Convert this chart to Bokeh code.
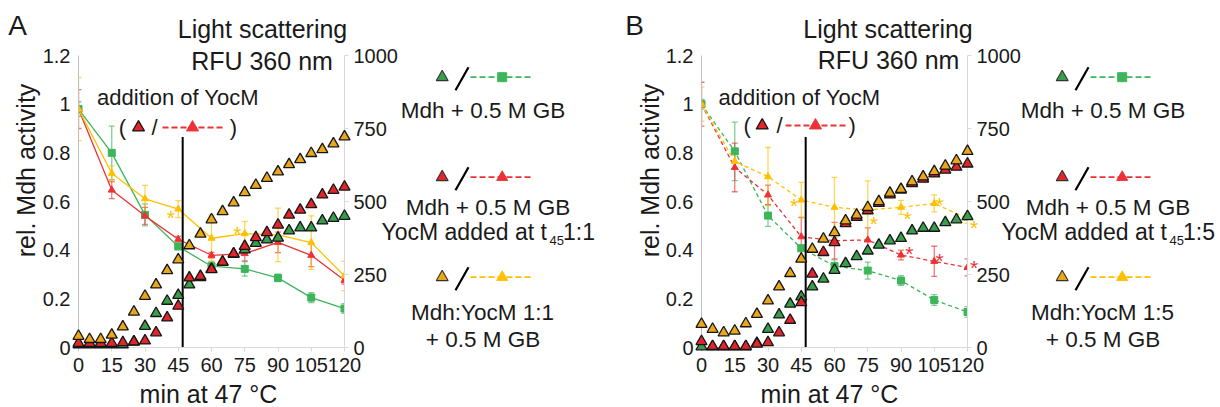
import math
from bokeh.plotting import figure
from bokeh.models import Range1d, LinearAxis, FixedTicker, Whisker, TeeHead, ColumnDataSource
from bokeh.layouts import row
from bokeh.embed import file_html
from bokeh.resources import INLINE
from bokeh.core.properties import value

# ---------------- data ----------------
minutes_activity = [0, 15, 30, 45, 60, 75, 90, 105, 120]
minutes_scatter = [0, 5, 10, 15, 20, 25, 30, 35, 40, 45, 50, 55, 60,
                   65, 70, 75, 80, 85, 90, 95, 100, 105, 110, 115, 120]
x_ticks = [0, 15, 30, 45, 60, 75, 90, 105, 120]
left_ticks = [0, 0.2, 0.4, 0.6, 0.8, 1.0, 1.2]
left_tick_labels = ["0", "0.2", "0.4", "0.6", "0.8", "1", "1.2"]
right_ticks = [0, 250, 500, 750, 1000]

yocm_addition_min = 47
yocm_line_top = 0.865

# Panel A  (Mdh:YocM 1:1)
A_act_mdh = [0.98, 0.80, 0.545, 0.415, 0.334, 0.323, 0.286, 0.205, 0.16]
A_err_mdh = [0.03, 0.11, 0.045, 0.012, 0.02, 0.03, 0.015, 0.02, 0.02]
A_act_added = [0.98, 0.647, 0.541, 0.445, 0.379, 0.386, 0.432, 0.379, 0.276]
A_err_added = [0.08, 0.035, 0.035, 0.012, 0.012, 0.03, 0.042, 0.047, 0.015]
A_act_premix = [0.98, 0.716, 0.611, 0.569, 0.449, 0.468, 0.463, 0.431, 0.294]
A_err_premix = [0.13, 0.03, 0.055, 0.035, 0.095, 0.05, 0.11, 0.11, 0.06]
A_ls_mdh = [10, 10, 10, 10, 10, 19, 73, 117, 159, 179, 215, 240, 268,
            292, 320, 335, 357, 369, 375, 400, 410, 410, 434, 443, 450]
A_ls_added = [15, 15, 15, 15, 17, 20, 23, 51, 102, 142, 239, 244, 267,
              293, 321, 347, 377, 394, 420, 454, 471, 490, 523, 539, 550]
A_ls_premix = [39, 28, 28, 43, 71, 122, 176, 215, 264, 301, 349, 389, 438,
               466, 496, 531, 556, 580, 602, 627, 644, 665, 678, 698, 722]
A_star_premix_x = [41.6, 71.7]
A_star_premix_y = [0.553, 0.49]
A_star_added_x = []
A_star_added_y = []

# Panel B  (Mdh:YocM 1:5)
B_act_mdh = [1.0, 0.806, 0.542, 0.408, 0.335, 0.316, 0.275, 0.195, 0.146]
B_err_mdh = [0.02, 0.12, 0.044, 0.012, 0.025, 0.035, 0.02, 0.022, 0.022]
B_act_added = [1.0, 0.74, 0.627, 0.455, 0.439, 0.442, 0.38, 0.354, 0.329]
B_err_added = [0.09, 0.10, 0.04, 0.08, 0.075, 0.05, 0.02, 0.062, 0.035]
B_act_premix = [1.0, 0.765, 0.702, 0.606, 0.576, 0.565, 0.576, 0.592, 0.53]
B_err_premix = [0.07, 0.03, 0.12, 0.073, 0.123, 0.12, 0.029, 0.035, 0.02]
B_ls_mdh = [3, 3, 3, 3, 3, 15, 63, 112, 149, 174, 208, 235, 265,
            288, 312, 331, 351, 366, 374, 400, 409, 409, 428, 438, 449]
B_ls_added = [21, 4, 4, 4, 4, 12, 17, 51, 94, 154, 252, 326, 360,
              425, 446, 469, 494, 523, 540, 562, 577, 595, 608, 618, 629]
B_ls_premix = [80, 63, 51, 57, 82, 114, 160, 208, 254, 303, 337, 372, 394,
               434, 454, 480, 500, 529, 542, 568, 585, 603, 622, 640, 672]
B_star_premix_x = [41.8, 77.7, 93.0, 107.4, 123.0]
B_star_premix_y = [0.603, 0.532, 0.549, 0.61, 0.512]
B_star_added_x = [93.8, 107.4, 123.0]
B_star_added_y = [0.405, 0.377, 0.35]

# ---------------- style ----------------
FONT = "Liberation Sans"
TXT = "#1a1a1a"
G_TRI, G_LINE = "#3A9D4B", "#3DB55A"
R_TRI, R_LINE = "#E1262B", "#EC3237"
Y_TRI, Y_LINE = "#E9A81C", "#FFC000"

FW, FH, FT, FB = 266, 292, 55, 347
H = 407


def build(cfg):
    FL = cfg["FL"]

    def dx(px):
        return (px - FL) / FW * 120.0

    def dy(py):
        return (FB - py) / FH * 1.2

    w = cfg["w"]
    p = figure(width=w, height=H, output_backend="svg", toolbar_location=None, tools="",
               x_range=Range1d(0, 120), y_range=Range1d(0, 1.2),
               min_border_left=cfg["bl"], min_border_right=w - cfg["bl"] - FW,
               min_border_top=FT, min_border_bottom=H - FT - FH)
    p.extra_y_ranges = {"ls": Range1d(0, 1000)}
    p.xgrid.visible = False
    p.ygrid.visible = False
    p.outline_line_color = None
    p.background_fill_color = "white"
    p.border_fill_color = "white"

    xa = p.xaxis[0]
    xa.ticker = FixedTicker(ticks=x_ticks)
    xa.axis_line_color = "#D9D9D9"
    xa.major_tick_line_color = "#D9D9D9"
    xa.major_tick_out = 4
    xa.major_tick_in = 0
    xa.minor_tick_line_color = None
    xa.major_label_standoff = 6
    xa.major_label_text_font = FONT
    xa.major_label_text_font_size = "20px"
    xa.major_label_text_color = TXT

    ya = p.yaxis[0]
    ya.ticker = FixedTicker(ticks=left_ticks)
    ya.major_label_overrides = {t: s for t, s in zip(left_ticks, left_tick_labels)}
    ya.axis_line_color = "#BFBFBF"
    ya.major_tick_line_color = None
    ya.major_tick_out = 0
    ya.major_tick_in = 0
    ya.minor_tick_line_color = None
    ya.major_label_standoff = 8
    ya.major_label_text_font = FONT
    ya.major_label_text_font_size = "20px"
    ya.major_label_text_color = TXT

    ra = LinearAxis(y_range_name="ls", ticker=FixedTicker(ticks=right_ticks))
    ra.axis_line_color = "#D9D9D9"
    ra.major_tick_line_color = "#D9D9D9"
    ra.major_tick_out = 4
    ra.major_tick_in = 0
    ra.minor_tick_line_color = None
    ra.major_label_standoff = 5
    ra.major_label_text_font = FONT
    ra.major_label_text_font_size = "20px"
    ra.major_label_text_color = TXT
    p.add_layout(ra, "right")

    # activity series
    series = [(cfg["mdh"], cfg["mdh_e"], G_LINE, "square", 7),
              (cfg["add"], cfg["add_e"], R_LINE, "triangle", 7),
              (cfg["pre"], cfg["pre_e"], Y_LINE, "triangle", 7)]
    for vals, errs, col, mk, ms in series:
        p.line(minutes_activity, vals, line_color=col, line_width=1.3, line_dash=cfg["dash"])
        src = ColumnDataSource(dict(x=minutes_activity,
                                    lo=[v - e for v, e in zip(vals, errs)],
                                    hi=[v + e for v, e in zip(vals, errs)]))
        p.add_layout(Whisker(source=src, base="x", lower="lo", upper="hi",
                             line_color=col, line_alpha=0.65, line_width=1.3,
                             upper_head=TeeHead(size=6, line_color=col, line_alpha=0.65, line_width=1.3),
                             lower_head=TeeHead(size=6, line_color=col, line_alpha=0.65, line_width=1.3)))
        p.scatter(minutes_activity, vals, marker=mk, size=ms, fill_color=col, line_color=col)

    # YocM addition line
    p.segment(x0=[yocm_addition_min], y0=[0], x1=[yocm_addition_min], y1=[yocm_line_top],
              line_color="black", line_width=2)

    # light scattering triangles
    for vals, col in [(cfg["ls_mdh"], G_TRI), (cfg["ls_add"], R_TRI), (cfg["ls_pre"], Y_TRI)]:
        p.scatter(minutes_scatter, vals, y_range_name="ls", marker="triangle", size=11,
                  fill_color=col, line_color="#151515", line_width=1.3, level="overlay")

    # significance asterisks
    for xs, ys, col in [(cfg["sp_x"], cfg["sp_y"], Y_LINE), (cfg["sa_x"], cfg["sa_y"], R_LINE)]:
        if xs:
            p.text(x=xs, y=ys, text=["*"] * len(xs), text_color=col, text_font=value(FONT),
                   text_font_size=value("21px"), text_align="center", text_baseline="middle",
                   y_offset=5, level="overlay")

    def txt(px, py, s, size, align="center", angle=0.0, color=TXT):
        p.text(x=[dx(px)], y=[dy(py)], text=[s], text_font=value(FONT),
               text_font_size=value(f"{size}px"), text_color=color, text_align=align,
               text_baseline="middle", angle=angle, level="overlay")

    def tri(px, py, s, fill, line, lw):
        h = s * 0.866
        xs = [dx(px - s / 2), dx(px + s / 2), dx(px)]
        ys = [dy(py + h / 3), dy(py + h / 3), dy(py - 2 * h / 3)]
        p.patch(xs, ys, fill_color=fill, line_color=line, line_width=lw, level="overlay")

    def sq(px, py, s, fill):
        xs = [dx(px - s / 2), dx(px + s / 2), dx(px + s / 2), dx(px - s / 2)]
        ys = [dy(py - s / 2), dy(py - s / 2), dy(py + s / 2), dy(py + s / 2)]
        p.patch(xs, ys, fill_color=fill, line_color=fill, line_width=1, level="overlay")

    pos = cfg["pos"]
    txt(*pos["letter"], cfg["letter"], 28)
    txt(*pos["light"], "Light scattering", 25)
    txt(*pos["rfu"], "RFU 360 nm", 25)
    txt(*pos["ylab"], "rel. Mdh activity", 25, angle=math.pi / 2)
    txt(*pos["xlab"], "min at 47 \u00b0C", 25)
    txt(*pos["addition"], "addition of YocM", 22)

    # "( triangle / ---triangle--- )"
    gy = pos["gy"]
    g = pos["group"]
    txt(g[0], gy, "(", 22)
    tri(g[1], gy, 12, R_TRI, "#151515", 1.3)
    txt(g[2], gy, "/", 22)
    p.line([dx(g[3]), dx(g[4])], [dy(gy), dy(gy)], line_color=R_LINE, line_width=1.8,
           line_dash="6 3", level="overlay")
    tri(g[5], gy, 12, R_LINE, R_LINE, 1)
    txt(g[6], gy, ")", 22)

    # legend
    off = cfg["off"]
    rows_y = [76.7, 176.7, 276.7]
    legend_items = [(G_TRI, G_LINE, "square"), (R_TRI, R_LINE, "triangle"),
                    (Y_TRI, Y_LINE, "triangle")]
    for ry, (tc, lc, mk) in zip(rows_y, legend_items):
        tri(441.7 + off, ry, 12, tc, "#333333", 1.1)
        p.segment(x0=[dx(455 + off)], y0=[dy(ry + 13)], x1=[dx(468 + off)], y1=[dy(ry - 10)],
                  line_color="black", line_width=2.2, level="overlay")
        p.line([dx(470 + off), dx(533 + off)], [dy(ry), dy(ry)], line_color=lc, line_width=1.8,
               line_dash="6 3", level="overlay")
        if mk == "square":
            sq(501.7 + off, ry, 9, lc)
        else:
            tri(501.7 + off, ry, 11, lc, lc, 1)

    txt(482.5 + off, 110, "Mdh + 0.5 M GB", 22.5)
    txt(487.5 + off, 206.7, "Mdh + 0.5 M GB", 22.5)
    x0 = 381 + off
    txt(x0, 231, "YocM added at t", 23, align="left")
    txt(x0 + 168, 240, "45", 13, align="left")
    txt(x0 + 181.5, 231, " " + cfg["ratio"], 23, align="left")
    txt(482 + off, 312, "Mdh:YocM " + cfg["ratio"], 22.5)
    txt(482.5 + off, 339, "+ 0.5 M GB", 22.5)
    return p


cfgA = dict(w=620, bl=78, FL=78, dash="solid", letter="A", ratio="1:1", off=0,
            mdh=A_act_mdh, mdh_e=A_err_mdh, add=A_act_added, add_e=A_err_added,
            pre=A_act_premix, pre_e=A_err_premix,
            ls_mdh=A_ls_mdh, ls_add=A_ls_added, ls_pre=A_ls_premix,
            sp_x=A_star_premix_x, sp_y=A_star_premix_y, sa_x=A_star_added_x, sa_y=A_star_added_y,
            pos=dict(letter=(17, 25), light=(262, 28), rfu=(261.5, 60), ylab=(25.5, 170),
                     xlab=(208, 393), addition=(177.5, 97), gy=127,
                     group=(122, 138, 154, 162, 222, 192, 233)))
cfgB = dict(w=600, bl=81, FL=701, dash="4 3", letter="B", ratio="1:5", off=620,
            mdh=B_act_mdh, mdh_e=B_err_mdh, add=B_act_added, add_e=B_err_added,
            pre=B_act_premix, pre_e=B_err_premix,
            ls_mdh=B_ls_mdh, ls_add=B_ls_added, ls_pre=B_ls_premix,
            sp_x=B_star_premix_x, sp_y=B_star_premix_y, sa_x=B_star_added_x, sa_y=B_star_added_y,
            pos=dict(letter=(634, 25), light=(887.5, 28), rfu=(888, 59), ylab=(649.5, 170),
                     xlab=(829, 393), addition=(799, 97), gy=125,
                     group=(746.7, 761.7, 779, 785, 847, 815, 851.7)))

layout = row(build(cfgA), build(cfgB))
open("out.html", "w").write(file_html(layout, INLINE))
